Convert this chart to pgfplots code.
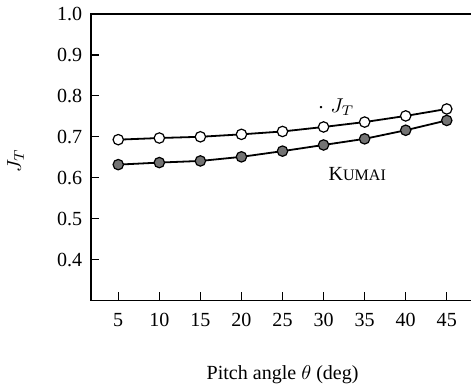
\documentclass[border=0pt]{standalone}
\usepackage{fontspec}
\setmainfont{Liberation Serif}
\usepackage{pgfplots}
\pgfplotsset{compat=1.18}
\usetikzlibrary{calc}
\begin{document}
\begin{tikzpicture}
\begin{axis}[
  scale only axis,
  width=190pt, height=143pt,
  xmin=1.7, xmax=48.05,
  ymin=0.3, ymax=1.0,
  xtick={5,10,...,45},
  ytick={0.4,0.5,...,1.0},
  yticklabel style={/pgf/number format/fixed,/pgf/number format/fixed zerofill,/pgf/number format/precision=1},
  /pgf/number format/assume math mode=true,
  tick align=inside,
  xtick pos=bottom, ytick pos=left,
  major tick length=4pt,
  tick style={black, line width=0.6pt},
  axis line style={line width=0.8pt},
  xticklabel style={yshift=-3pt},
  yticklabel style={xshift=-1pt},
  xlabel={Pitch angle $\theta$ (deg)},
  xlabel style={at={(rel axis cs:0.503,0)}, anchor=center, yshift=-37pt},
  clip=false,
]
\addplot[black, line width=0.9pt, mark=*, mark size=2.6pt, mark options={fill=white, draw=black, line width=0.6pt}]
coordinates {(5,0.693) (10,0.697) (15,0.700) (20,0.706) (25,0.713) (30,0.724) (35,0.736) (40,0.751) (45,0.768)};
\addplot[black, line width=0.9pt, mark=*, mark size=2.6pt, mark options={fill=black!55, draw=black, line width=0.6pt}]
coordinates {(5,0.632) (10,0.637) (15,0.641) (20,0.651) (25,0.665) (30,0.680) (35,0.695) (40,0.716) (45,0.740)};
\node at (axis cs:32.3,0.772) {$J_T$};
\node at (axis cs:29.7,0.772) {.};
\node at (axis cs:34.1,0.61) {K{\footnotesize UMAI}};
\node[rotate=90] at (axis cs:-7.5,0.641) {$J_T$};
\end{axis}
\pgfresetboundingbox
\path[use as bounding box] ($(current axis.south west)+(-45.5pt,-44pt)$) rectangle ($(current axis.north east)+(-0.4pt,7pt)$);
\end{tikzpicture}
\end{document}
